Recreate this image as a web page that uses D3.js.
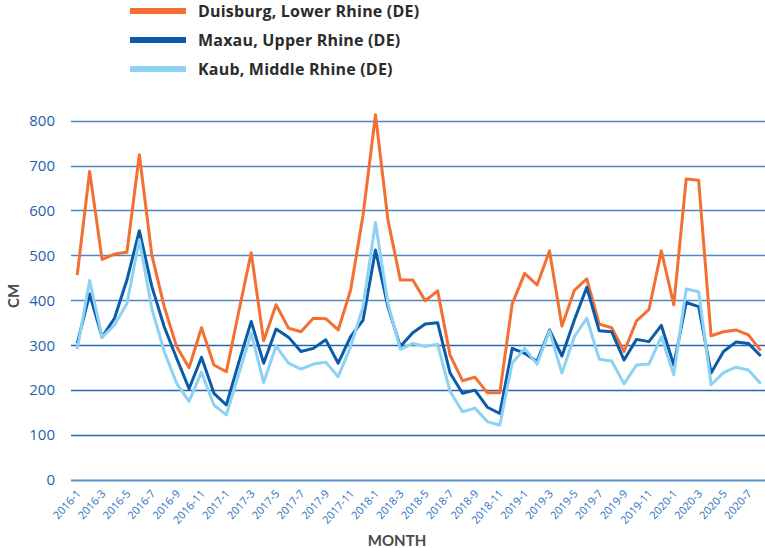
<!DOCTYPE html>
<html>
<head>
<meta charset="utf-8">
<script src="https://cdn.jsdelivr.net/npm/d3@7"></script>
<style>
  body { margin: 0; background: #fff; }
  svg { display: block; }
</style>
</head>
<body>
<div id="chart"></div>
<script>
// months on the x axis
var months = [
  "2016-1","2016-2","2016-3","2016-4","2016-5","2016-6","2016-7","2016-8","2016-9","2016-10","2016-11","2016-12",
  "2017-1","2017-2","2017-3","2017-4","2017-5","2017-6","2017-7","2017-8","2017-9","2017-10","2017-11","2017-12",
  "2018-1","2018-2","2018-3","2018-4","2018-5","2018-6","2018-7","2018-8","2018-9","2018-10","2018-11","2018-12",
  "2019-1","2019-2","2019-3","2019-4","2019-5","2019-6","2019-7","2019-8","2019-9","2019-10","2019-11","2019-12",
  "2020-1","2020-2","2020-3","2020-4","2020-5","2020-6","2020-7","2020-8"
];

// water levels in cm
var duisburg = [456,687,491,503,507,724,501,386,297,250,339,256,
                241,375,506,310,390,338,330,360,359,334,423,590,
                813,579,445,445,399,421,278,221,229,194,194,392,
                460,434,510,343,422,448,347,339,286,354,379,510,
                390,670,667,321,330,334,323,288];
var maxau    = [304,414,318,360,445,555,431,341,271,203,273,193,
                167,262,353,260,336,318,286,293,312,260,319,356,
                512,386,297,328,347,350,238,193,200,162,148,293,
                282,264,334,276,356,429,332,330,267,313,308,344,
                256,395,386,238,286,307,304,276];
var kaub     = [291,444,318,345,393,535,382,286,215,175,240,167,
                145,236,327,217,298,260,247,258,262,230,297,386,
                573,393,291,304,297,302,197,152,160,130,122,260,
                293,258,332,238,319,360,269,265,214,256,258,319,
                234,425,419,212,239,251,245,214];

var seriesNames = ["Duisburg, Lower Rhine (DE)", "Maxau, Upper Rhine (DE)", "Kaub, Middle Rhine (DE)"];
var seriesColors = ["#f36f32", "#0b5ba8", "#8dd2f3"];
var yTicks = [0, 100, 200, 300, 400, 500, 600, 700, 800];

var W = 765, H = 548;
var plot = {left: 71, right: 767, top: 120, bottom: 480};

var svg = d3.select("#chart")
  .append("svg")
    .attr("width", W)
    .attr("height", H);

var x = d3.scaleBand()
  .domain(months)
  .range([plot.left, plot.right]);

var y = d3.scaleLinear()
  .domain([0, 800])
  .range([plot.bottom, plot.top + 0.6]);

// gridlines
svg.append("g")
  .selectAll("line")
  .data(yTicks)
  .enter()
  .append("line")
    .attr("x1", plot.left)
    .attr("x2", W)
    .attr("y1", function(d) { return Math.round(y(d)) + 0.5; })
    .attr("y2", function(d) { return Math.round(y(d)) + 0.5; })
    .attr("stroke", d => d === 0 ? "#5a92cc" : (d >= 400 ? "#4f86c4" : "#2466b0"))
    .attr("stroke-width", d => d === 0 ? 2 : 1.3);

// Y axis labels
var yAxis = svg.append("g")
  .attr("transform", "translate(" + (plot.left - 16) + ",0)")
  .call(d3.axisLeft(y).tickValues(yTicks).tickSize(0).tickPadding(0));
yAxis.select(".domain").remove();
yAxis.selectAll("text")
  .attr("font-family", "'Open Sans', sans-serif")
  .attr("font-size", 15)
  .attr("fill", "#1d62ad");

// X axis labels, every other month
var xAxis = svg.append("g")
  .attr("transform", "translate(0," + plot.bottom + ")")
  .call(d3.axisBottom(x)
    .tickValues(months.filter(function(d, i) { return i % 2 === 0; }))
    .tickSize(0));
xAxis.select(".domain").remove();
xAxis.selectAll("text")
  .attr("font-family", "'Open Sans', sans-serif")
  .attr("font-size", 11)
  .attr("fill", "#2a6fbd")
  .attr("text-anchor", "end")
  .attr("dy", 0)
  .attr("transform", "translate(2,12)rotate(-48)");

// axis titles
svg.append("text")
  .attr("x", 397)
  .attr("y", 546)
  .attr("text-anchor", "middle")
  .attr("font-family", "Lato, sans-serif")
  .attr("font-weight", "bold")
  .attr("font-size", 15)
  .attr("fill", "#4a4a4a")
  .text("MONTH");

svg.append("text")
  .attr("transform", "translate(19,296)rotate(-90)")
  .attr("text-anchor", "middle")
  .attr("font-family", "Lato, sans-serif")
  .attr("font-weight", "bold")
  .attr("font-size", 15)
  .attr("fill", "#4a4a4a")
  .text("CM");

// lines
var line = d3.line()
  .x(function(d, i) { return x(months[i]) + x.bandwidth() / 2; })
  .y(function(d) { return y(d); });

[duisburg, maxau, kaub].forEach(function(values, k) {
  svg.append("path")
    .datum(values)
    .attr("fill", "none")
    .attr("stroke", seriesColors[k])
    .attr("stroke-width", 3)
    .attr("stroke-linejoin", "round")
    .attr("d", line);
});

// legend
var legend = svg.append("g")
  .selectAll("g")
  .data(seriesNames)
  .enter()
  .append("g")
    .attr("transform", function(d, i) { return "translate(130," + (11 + i * 29) + ")"; });

legend.append("line")
  .attr("x1", 0)
  .attr("x2", 56)
  .attr("stroke", function(d, i) { return seriesColors[i]; })
  .attr("stroke-width", 6);

legend.append("text")
  .attr("x", 68)
  .attr("dy", "0.36em")
  .attr("font-family", "'Open Sans', sans-serif")
  .attr("font-weight", "bold")
  .attr("font-size", 16)
  .attr("letter-spacing", 0.2)
  .attr("fill", "#2b2b2b")
  .text(function(d) { return d; });
</script>
</body>
</html>
